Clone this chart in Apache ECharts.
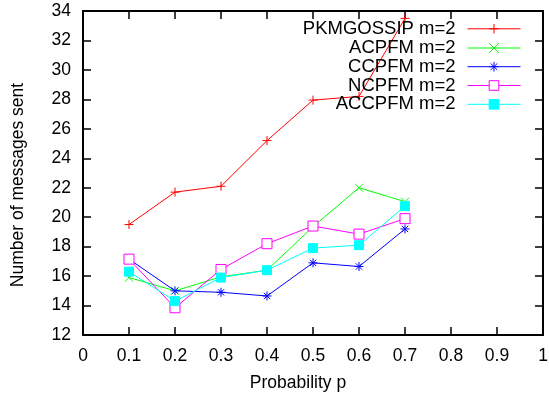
<!DOCTYPE html>
<html>
<head>
<meta charset="utf-8">
<script src="https://cdn.jsdelivr.net/npm/echarts@6/dist/echarts.min.js"></script>
<style>
html,body{margin:0;padding:0;background:#fff;}
#chart{width:549px;height:398px;}
</style>
</head>
<body>
<div id="chart"></div>
<script>
const probabilities = [0.1, 0.2, 0.3, 0.4, 0.5, 0.6, 0.7];
const seriesNames = ['PKMGOSSIP m=2', 'ACPFM m=2', 'CCPFM m=2', 'NCPFM m=2', 'ACCPFM m=2'];
const pkmgossip = [19.5, 21.7, 22.1, 25.2, 27.95, 28.2, 33.5];
const acpfm     = [15.9, 15.0, 15.95, 16.4, 19.35, 22.0, 21.05];
const ccpfm     = [17.15, 15.0, 14.9, 14.65, 16.9, 16.65, 19.2];
const ncpfm     = [17.15, 13.85, 16.45, 18.2, 19.4, 18.85, 19.9];
const accpfm    = [16.3, 14.3, 15.9, 16.4, 17.9, 18.1, 20.75];
const xAxisTitle = 'Probability p';
const yAxisTitle = 'Number of messages sent';

const FONT = 'Liberation Sans, Arial, sans-serif';
const values = [pkmgossip, acpfm, ccpfm, ncpfm, accpfm];
const colors = ['#ff0000', '#00ff00', '#0000ff', '#ff00ff', '#00ffff'];
const fills  = ['#ff0000', '#00ff00', '#0000ff', '#ffffff', '#00ffff'];
const symbols = [
  'path://M0,5L10,5M5,0L5,10',
  'path://M0,0L10,10M0,10L10,0',
  'path://M0,5L10,5M5,0L5,10M1.5,1.5L8.5,8.5M1.5,8.5L8.5,1.5',
  'path://M0,0L10,0L10,10L0,10Z',
  'rect'
];
const symbolSizes = [9, 8, 9, 10, 9];

const chart = echarts.init(document.getElementById('chart'), null, {renderer: 'canvas'});

const series = seriesNames.map((name, i) => ({
  name: name,
  type: 'line',
  xAxisIndex: 0,
  yAxisIndex: 0,
  data: probabilities.map((p, j) => [p, values[i][j]]),
  symbol: symbols[i],
  symbolSize: symbolSizes[i],
  showAllSymbol: true,
  lineStyle: {color: colors[i], width: 1},
  itemStyle: {
    color: fills[i],
    borderColor: colors[i],
    borderWidth: 1
  },
  emphasis: {disabled: true},
  animation: false
}));

const rowCenters = [28.3, 47.5, 66.2, 85, 103.8];
const legends = seriesNames.map((name, i) => ({
  data: [name],
  orient: 'vertical',
  right: 28,
  top: rowCenters[i] - 9,
  align: 'right',
  itemWidth: 53,
  itemHeight: 12,
  padding: 0,
  selectedMode: false,
  lineStyle: {width: 1},
  itemStyle: {borderWidth: 1},
  textStyle: {fontSize: 18.5, fontFamily: FONT, color: '#000', padding: [0, 7, 0, 0]}
}));

const axisCommon = {
  axisLine: {show: true, onZero: false, lineStyle: {color: '#000', width: 2}},
  axisTick: {show: true, inside: true, length: 8, lineStyle: {color: '#000', width: 1.5}},
  splitLine: {show: false}
};

chart.setOption({
  animation: false,
  backgroundColor: '#fff',
  grid: {left: 83, right: 6, top: 11, bottom: 63, containLabel: false, outerBoundsMode: 'none'},
  legend: legends,
  xAxis: [
    Object.assign({
      type: 'value', position: 'bottom', min: 0, max: 1, interval: 0.1,
      axisLabel: {show: true, margin: 12, fontSize: 17.5, fontFamily: FONT, color: '#000'}
    }, axisCommon),
    Object.assign({
      type: 'value', position: 'top', min: 0, max: 1, interval: 0.1,
      axisLabel: {show: false}
    }, axisCommon)
  ],
  yAxis: [
    Object.assign({
      type: 'value', position: 'left', min: 12, max: 34, interval: 2,
      axisLabel: {show: true, margin: 12, fontSize: 17.5, fontFamily: FONT, color: '#000'}
    }, axisCommon),
    Object.assign({
      type: 'value', position: 'right', min: 12, max: 34, interval: 2,
      axisLabel: {show: false}
    }, axisCommon)
  ],
  graphic: [
    {type: 'text', x: 298, y: 383, style: {text: xAxisTitle, fontSize: 17.5, fontFamily: FONT, fill: '#000', align: 'center', verticalAlign: 'middle'}},
    {type: 'text', x: 18, y: 185, rotation: Math.PI / 2, style: {text: yAxisTitle, fontSize: 17.5, fontFamily: FONT, fill: '#000', align: 'center', verticalAlign: 'middle'}}
  ],
  series: series
});
</script>
</body>
</html>
